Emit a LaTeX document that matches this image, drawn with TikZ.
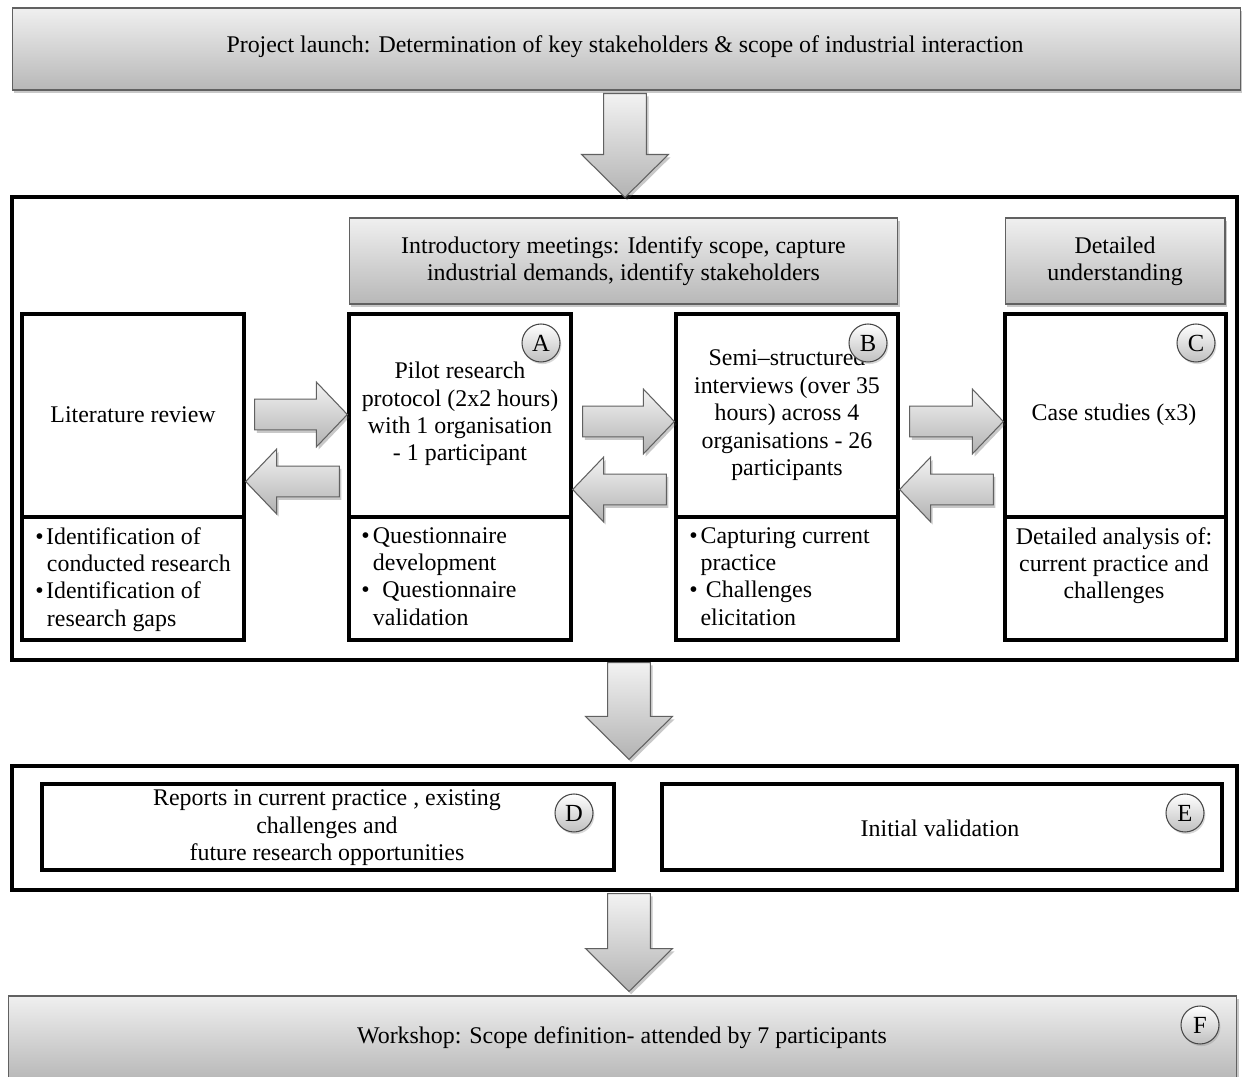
\documentclass[tikz,border=0pt]{standalone}
\usepackage{fontspec}
\setmainfont{Liberation Serif}
\usetikzlibrary{calc,shadows}

% block arrow from tail #1 to tip #2: shaft half width #3, head half width #4, head length #5
\newcommand\blockarrowpath[5]{%
  \coordinate (ah) at ($(#2)!#5!(#1)$);
  \path[blockarrow] ($(#1)!#3!90:(#2)$) -- ($(ah)!#3!-90:(#1)$) -- ($(ah)!#4!-90:(#1)$)
     -- (#2) -- ($(ah)!#4!90:(#1)$) -- ($(ah)!#3!90:(#1)$) -- ($(#1)!#3!-90:(#2)$) -- cycle;
}
\newcommand\downblock[2]{\blockarrowpath{#1}{#2}{12.2pt}{24.7pt}{24.4pt}}
\newcommand\sideblock[2]{\blockarrowpath{#1}{#2}{8.8pt}{18.4pt}{17.6pt}}

\tikzset{
  softshadow/.style={drop shadow={shadow xshift=1.2pt, shadow yshift=-1.6pt, opacity=0.3, fill=black!70}},
  graybox/.style={draw=black!62, line width=0.6pt, top color=black!6, bottom color=black!28, softshadow},
  frame/.style={draw=black, line width=1.9pt},
  colbox/.style={draw=black, line width=1.9pt, fill=white},
  blockarrow/.style={draw=black!62, line width=0.6pt, top color=black!5, bottom color=black!30, softshadow},
  tag/.style={circle, draw=black!72, line width=0.6pt, minimum size=0.76cm, inner sep=0pt,
              top color=white, bottom color=black!25, font=\fontsize{14}{15}\selectfont,
              drop shadow={shadow xshift=0.8pt, shadow yshift=-1.2pt, opacity=0.3}},
  txt/.style={align=center, inner sep=0pt, font=\fontsize{13.6}{15.6}\selectfont},
  bul/.style={align=left, inner sep=0pt, anchor=north west, font=\fontsize{13.6}{15.6}\selectfont},
}

\begin{document}
\begin{tikzpicture}[x=0.02cm, y=-0.02cm]
  \clip (0,0) rectangle (1242,1077);
  \fill[white] (0,0) rectangle (1242,1077);

  % top stage
  \node[graybox, minimum width=24.58cm, minimum height=1.64cm] (launch) at (626.5,49) {};
  \node[txt] (launchtxt) at (625,47) {Project launch: Determination of key stakeholders \& scope of industrial interaction};

  % main research stage
  \node[frame, minimum width=24.5cm, minimum height=9.26cm] (stage1) at (624.5,428.5) {};
  \node[graybox, minimum width=10.98cm, minimum height=1.72cm, txt] (intro) at (623.5,261)
    {Introductory meetings: Identify scope, capture\\industrial demands, identify stakeholders};
  \node[graybox, minimum width=4.4cm, minimum height=1.72cm, txt] (detail) at (1115,261)
    {Detailed\\understanding};

  % column boxes
  \node[colbox, minimum width=4.44cm, minimum height=4.06cm] (litTop) at (133,415.5) {};
  \node[colbox, minimum width=4.44cm, minimum height=2.46cm] (litBot) at (133,578.5) {};
  \node[colbox, minimum width=4.44cm, minimum height=4.06cm] (aTop) at (460,415.5) {};
  \node[colbox, minimum width=4.44cm, minimum height=2.46cm] (aBot) at (460,578.5) {};
  \node[colbox, minimum width=4.44cm, minimum height=4.06cm] (bTop) at (787,415.5) {};
  \node[colbox, minimum width=4.44cm, minimum height=2.46cm] (bBot) at (787,578.5) {};
  \node[colbox, minimum width=4.42cm, minimum height=4.06cm] (cTop) at (1115.5,415.5) {};
  \node[colbox, minimum width=4.42cm, minimum height=2.46cm] (cBot) at (1115.5,578.5) {};

  \node[txt] (littxt) at (133,415) {Literature review};
  \node[txt] (atxt) at (460,414) {Pilot research\\protocol (2x2 hours)\\with 1 organisation\\- 1 participant};
  \node[txt] (btxt) at (787,415) {Semi–structured\\interviews (over 35\\hours) across 4\\organisations - 26\\participants};
  \node[txt] (ctxt) at (1114,415) {Case studies (x3)};

  \node[bul] (litlist) at (35,527) {\makebox[6.2pt][l]{\textbullet}Identification of\\\hspace*{6.6pt}conducted research\\\makebox[6.2pt][l]{\textbullet}Identification of\\\hspace*{6.6pt}research gaps};
  \node[bul] (alist) at (361,527) {\makebox[6.6pt][l]{\textbullet}Questionnaire\\\hspace*{6.6pt}development\\\makebox[12pt][l]{\textbullet}Questionnaire\\\hspace*{6.6pt}validation};
  \node[bul] (blist) at (689,527) {\makebox[6.4pt][l]{\textbullet}Capturing current\\\hspace*{6.4pt}practice\\\makebox[9.4pt][l]{\textbullet}Challenges\\\hspace*{6.4pt}elicitation};
  \node[txt, anchor=north] (clist) at (1114,527) {Detailed analysis of:\\current practice and\\challenges};

  % arrows between the columns
  \coordinate (r1s) at ($(litTop.east)+(9,-1)$);   \coordinate (r1e) at (aTop.west |- r1s);
  \coordinate (l1s) at ($(aTop.west)+(-8,66)$);    \coordinate (l1e) at (litTop.east |- l1s);
  \coordinate (r2s) at ($(aTop.east)+(10,6)$);     \coordinate (r2e) at (bTop.west |- r2s);
  \coordinate (l2s) at ($(bTop.west)+(-8,74)$);    \coordinate (l2e) at (aTop.east |- l2s);
  \coordinate (r3s) at ($(bTop.east)+(10,6)$);     \coordinate (r3e) at (cTop.west |- r3s);
  \coordinate (l3s) at ($(cTop.west)+(-10,74)$);   \coordinate (l3e) at (bTop.east |- l3s);
  \sideblock{r1s}{r1e}
  \sideblock{l1s}{l1e}
  \sideblock{r2s}{r2e}
  \sideblock{l2s}{l2e}
  \sideblock{r3s}{r3e}
  \sideblock{l3s}{l3e}

  \node[tag] (tagA) at (541,343) {A};
  \node[tag] (tagB) at (868,343) {B};
  \node[tag] (tagC) at (1196,343) {C};

  % outcome stage
  \node[frame, minimum width=24.5cm, minimum height=2.48cm] (stage2) at (624.5,828) {};
  \node[colbox, minimum width=11.44cm, minimum height=1.72cm] (dbox) at (328,827) {};
  \node[colbox, minimum width=11.2cm, minimum height=1.72cm] (ebox) at (942,827) {};
  \node[txt] (dtxt) at (327,828) {Reports in current practice , existing\\challenges and\\future research opportunities};
  \node[txt] (etxt) at (940,828) {Initial validation};
  \node[tag] (tagD) at (574,813) {D};
  \node[tag] (tagE) at (1185,813) {E};

  % workshop
  \node[graybox, minimum width=24.58cm, minimum height=1.68cm] (workshop) at (622.5,1038) {};
  \node[txt] (worktxt) at (622,1038) {Workshop: Scope definition- attended by 7 participants};
  \node[tag] (tagF) at (1200,1025) {F};

  % flow between the stages
  \coordinate (d1s) at ($(launch.south)+(-1.5,3)$);  \coordinate (d1e) at ($(stage1.north)+(0.5,2)$);
  \coordinate (d2s) at ($(stage1.south)+(4.5,1)$);   \coordinate (d2e) at ($(stage2.north)+(4.5,-5)$);
  \coordinate (d3s) at ($(stage2.south)+(4.5,2)$);   \coordinate (d3e) at ($(workshop.north)+(6.5,-4)$);
  \downblock{d1s}{d1e}
  \downblock{d2s}{d2e}
  \downblock{d3s}{d3e}
\end{tikzpicture}
\end{document}
